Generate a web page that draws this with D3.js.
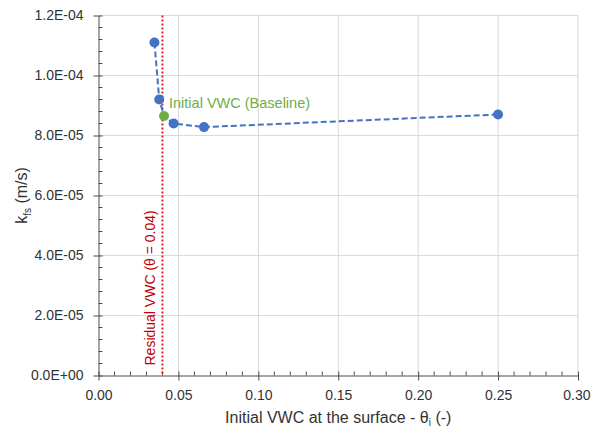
<!DOCTYPE html>
<html>
<head>
<meta charset="utf-8">
<script src="https://cdn.jsdelivr.net/npm/d3@7"></script>
<style>
  body { margin: 0; background: #fff; }
  svg { display: block; font-family: "Liberation Sans", Arial, sans-serif; }
</style>
</head>
<body>
<svg id="chart" width="591" height="429"></svg>
<script>
// Initial volumetric water content at the surface vs field-saturated conductivity
const theta = [0.035, 0.038, 0.041, 0.047, 0.066, 0.25];
const kfs = [1.11e-4, 9.2e-5, 8.65e-5, 8.4e-5, 8.28e-5, 8.7e-5];
// index of the baseline measurement (highlighted in green)
const baselineIndex = 2;
const baselineLabel = "Initial VWC (Baseline)";
const residualTheta = 0.04;
const residualLabel = "Residual VWC (\u03b8 = 0.04)";

const xTicks = [0, 0.05, 0.10, 0.15, 0.20, 0.25, 0.30];
const yTicks = [0, 2e-5, 4e-5, 6e-5, 8e-5, 1e-4, 1.2e-4];

const svg = d3.select("#chart");
const plotLeft = 98.5, plotRight = 578, plotTop = 15.5, plotBottom = 375.5;

const x = d3.scaleLinear().domain([0, 0.30]).range([plotLeft, plotRight]);
const y = d3.scaleLinear().domain([0, 1.2e-4]).range([plotBottom, plotTop]);

const grid = "#d9d9d9", axisCol = "#4d4d4d", textCol = "#333333";
const font = "'Liberation Sans', Arial, sans-serif";

// gridlines
svg.append("g").selectAll("line").data(xTicks.slice(1)).join("line")
  .attr("x1", d => x(d)).attr("x2", d => x(d))
  .attr("y1", plotTop).attr("y2", plotBottom)
  .attr("stroke", grid).attr("stroke-width", 1);
svg.append("g").selectAll("line").data(yTicks.slice(1)).join("line")
  .attr("x1", plotLeft).attr("x2", plotRight)
  .attr("y1", d => y(d)).attr("y2", d => y(d))
  .attr("stroke", grid).attr("stroke-width", 1);

// minor ticks (inside the plot area)
const xMinor = d3.range(0, 0.3001, 0.01).filter(v => Math.abs(v / 0.05 - Math.round(v / 0.05)) > 1e-6);
const yMinor = d3.range(0, 1.2001e-4, 4e-6).filter(v => Math.abs(v / 2e-5 - Math.round(v / 2e-5)) > 1e-6);
svg.append("g").selectAll("line").data(xMinor).join("line")
  .attr("x1", d => x(d)).attr("x2", d => x(d))
  .attr("y1", plotBottom).attr("y2", plotBottom - 4)
  .attr("stroke", axisCol);
svg.append("g").selectAll("line").data(yMinor).join("line")
  .attr("x1", plotLeft).attr("x2", plotLeft + 4)
  .attr("y1", d => y(d)).attr("y2", d => y(d))
  .attr("stroke", axisCol);

// axes
const fmtY = d => d3.format(".1e")(d).toUpperCase().replace(/E([+-])(\d)$/, "E$10$2");
const xAxis = svg.append("g").attr("transform", `translate(0,${plotBottom})`)
  .call(d3.axisBottom(x).tickValues(xTicks).tickFormat(d3.format(".2f")).tickSizeInner(5).tickSizeOuter(0));
const yAxis = svg.append("g").attr("transform", `translate(${plotLeft},0)`)
  .call(d3.axisLeft(y).tickValues(yTicks).tickFormat(fmtY).tickSizeInner(5).tickSizeOuter(0));
[xAxis, yAxis].forEach(a => {
  a.select(".domain").attr("stroke", axisCol);
  a.selectAll(".tick line").attr("stroke", axisCol);
  a.selectAll("text").attr("fill", textCol).style("font-size", "14px")
    .style("font-family", font);
});
xAxis.selectAll("text").attr("y", 15).attr("dy", "0.71em");
yAxis.selectAll("text").attr("x", -15);
// last x label sits flush with the right edge
xAxis.selectAll(".tick text").filter(d => d === 0.30).attr("text-anchor", "end").attr("dx", 12);
// major ticks cross the axis line
xAxis.selectAll(".tick line").attr("y1", -4);
yAxis.selectAll(".tick line").attr("x2", 4).attr("x1", -5);

// residual VWC marker
svg.append("line")
  .attr("x1", x(residualTheta)).attr("x2", x(residualTheta))
  .attr("y1", plotTop).attr("y2", plotBottom)
  .attr("stroke", "#e02020").attr("stroke-width", 2)
  .attr("stroke-dasharray", "2,2");
svg.append("text")
  .attr("transform", `translate(${x(residualTheta) - 7},${plotBottom - 10}) rotate(-90)`)
  .attr("fill", "#c00000").style("font-size", "14px")
  .text(residualLabel);

// data line
const line = d3.line().x((d, i) => x(theta[i])).y(d => y(d));
svg.append("path").datum(kfs)
  .attr("d", line).attr("fill", "none")
  .attr("stroke", "#4472c4").attr("stroke-width", 2)
  .attr("stroke-dasharray", "6,3");

svg.append("g").selectAll("circle").data(kfs).join("circle")
  .attr("cx", (d, i) => x(theta[i])).attr("cy", d => y(d)).attr("r", 5)
  .attr("fill", (d, i) => i === baselineIndex ? "#70ad47" : "#4472c4");

svg.append("text")
  .attr("x", x(theta[baselineIndex]) + 5).attr("y", y(kfs[baselineIndex]) - 8)
  .attr("fill", "#70ad47").style("font-size", "14.5px")
  .text(baselineLabel);

// axis titles
const yTitle = svg.append("text")
  .attr("transform", `translate(27,${(plotTop + plotBottom) / 2}) rotate(-90)`)
  .attr("text-anchor", "middle").attr("fill", textCol).style("font-size", "16px");
yTitle.append("tspan").text("k");
yTitle.append("tspan").attr("dy", 4).style("font-size", "10px").text("fs");
yTitle.append("tspan").attr("dy", -4).text(" (m/s)");

const xTitle = svg.append("text")
  .attr("x", (plotLeft + plotRight) / 2).attr("y", 423)
  .attr("text-anchor", "middle").attr("fill", textCol).style("font-size", "16px");
xTitle.append("tspan").text("Initial VWC at the surface - \u03b8");
xTitle.append("tspan").attr("dy", 3).style("font-size", "10px").text("i");
xTitle.append("tspan").attr("dy", -3).text(" (-)");
</script>
</body>
</html>
